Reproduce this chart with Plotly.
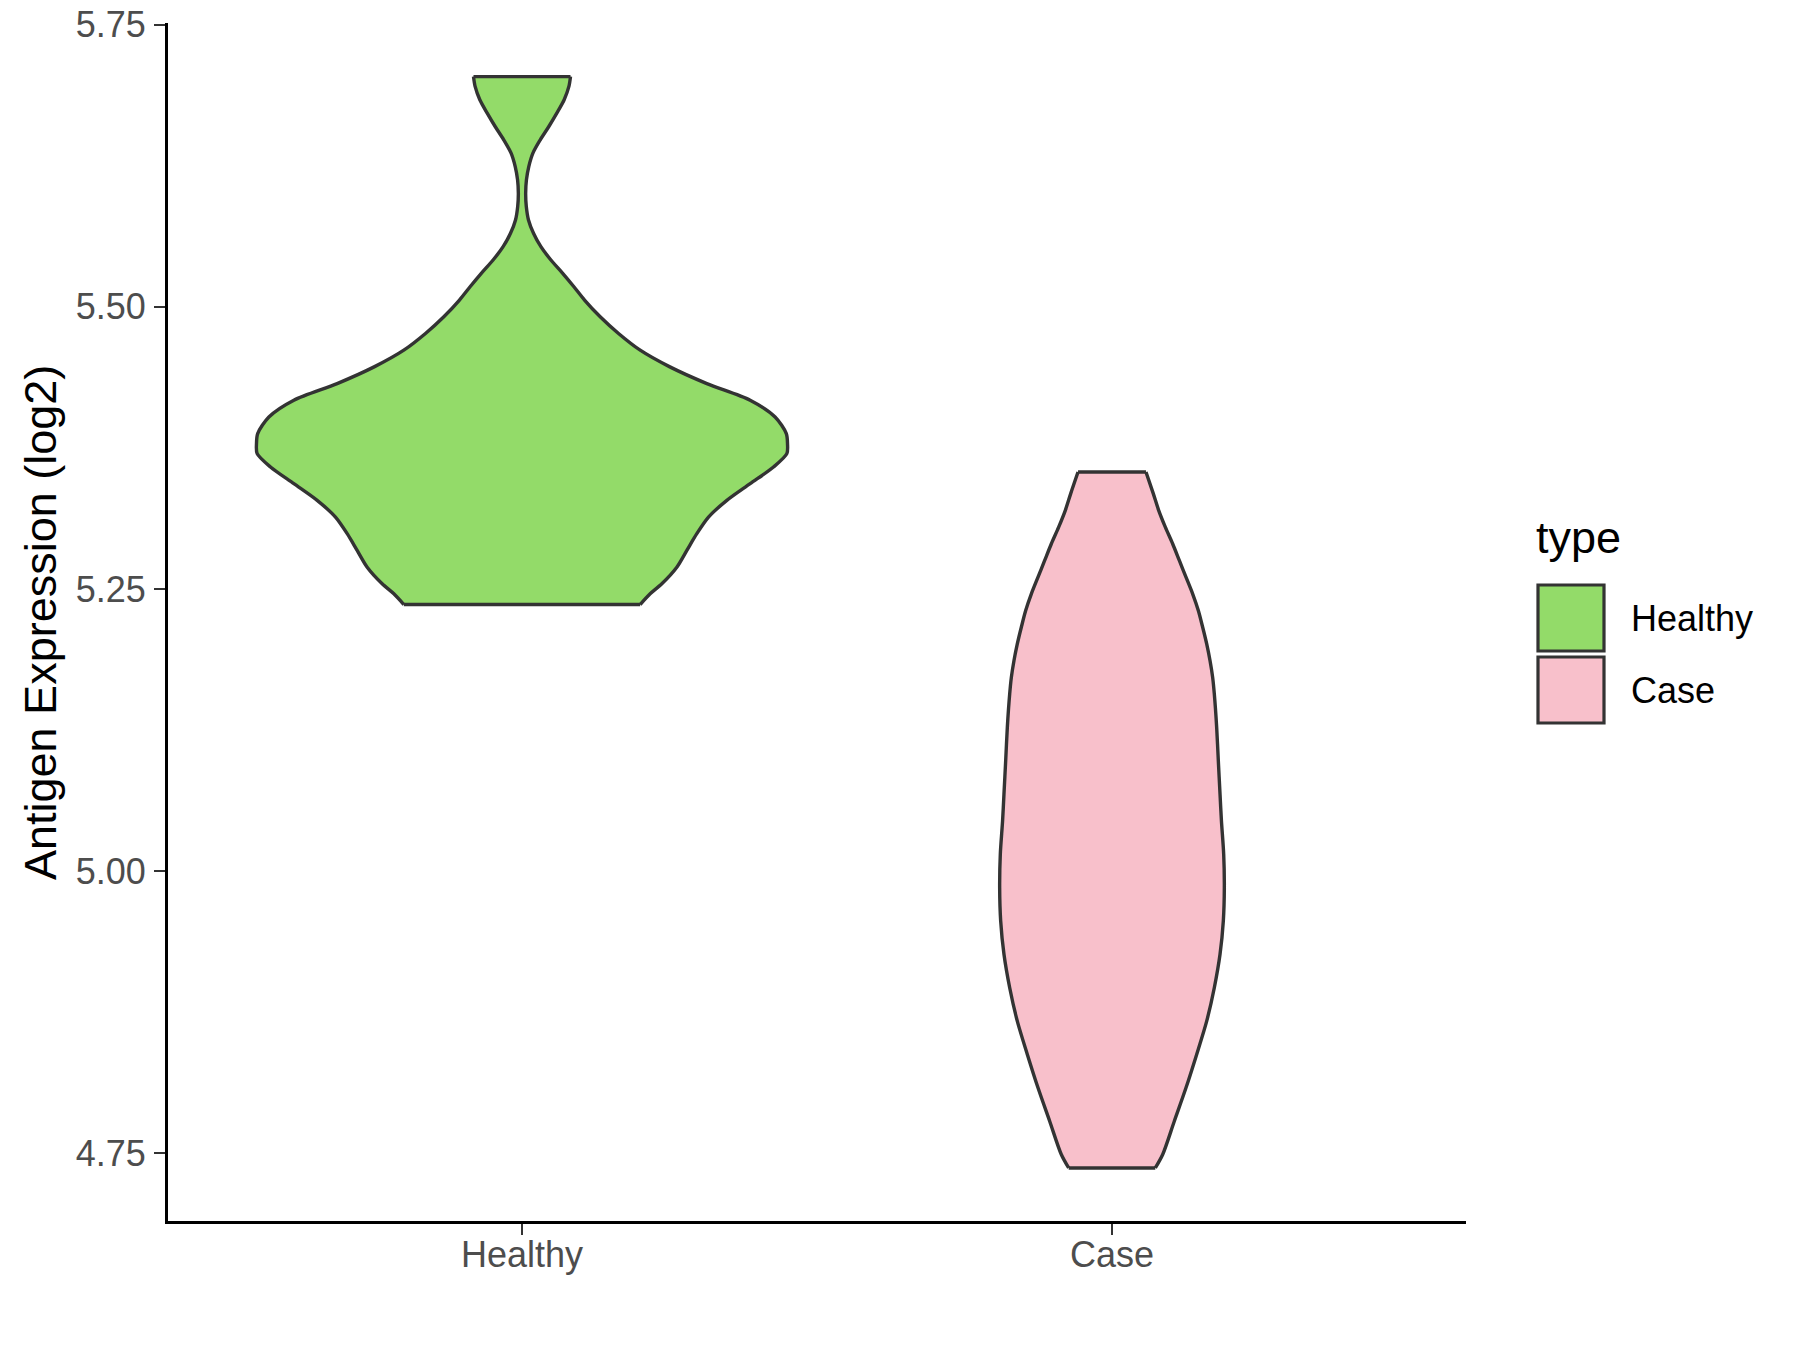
import plotly.graph_objects as go

categories = ["Healthy", "Case"]
colors = {"Healthy": "#93DB69", "Case": "#F8C0CB"}

# violin outlines: expression level -> half width (category units)
healthy_levels = [5.2362, 5.2457, 5.2546, 5.2693, 5.2842, 5.2990, 5.3137, 5.3285, 5.3433, 5.3581,
                  5.3699, 5.3788, 5.3877, 5.4024, 5.4173, 5.4320, 5.4468, 5.4616, 5.4764, 5.4912,
                  5.5060, 5.5178, 5.5297, 5.5415, 5.5533, 5.5652, 5.5770, 5.5888, 5.6007, 5.6125,
                  5.6243, 5.6362, 5.6480, 5.6598, 5.6716, 5.6835, 5.6953, 5.7040]
healthy_halfwidth = [0.2003, 0.2172, 0.2370, 0.2624, 0.2794, 0.2963, 0.3161, 0.3472, 0.3867, 0.4263,
                     0.4489, 0.4500, 0.4480, 0.4290, 0.3867, 0.3133, 0.2506, 0.2003, 0.1636, 0.1325,
                     0.1060, 0.0880, 0.0690, 0.0490, 0.0320, 0.0195, 0.0110, 0.0073, 0.0062, 0.0075,
                     0.0115, 0.0185, 0.0310, 0.0455, 0.0590, 0.0715, 0.0795, 0.0822]

case_levels = [4.7370, 4.7489, 4.7784, 4.8080, 4.8376, 4.8671, 4.8967, 4.9263, 4.9559, 4.9854,
               5.0150, 5.0443, 5.0683, 5.0978, 5.1274, 5.1570, 5.1717, 5.1866, 5.2013, 5.2161,
               5.2309, 5.2457, 5.2605, 5.2753, 5.2901, 5.3048, 5.3197, 5.3345, 5.3536]
case_halfwidth = [0.0734, 0.0859, 0.1056, 0.1254, 0.1435, 0.1605, 0.1734, 0.1831, 0.1887, 0.1904,
                  0.1893, 0.1855, 0.1831, 0.1802, 0.1774, 0.1734, 0.1706, 0.1661, 0.1605, 0.1537,
                  0.1463, 0.1367, 0.1254, 0.1141, 0.1028, 0.0904, 0.0791, 0.0700, 0.0576]

y_ticks = [4.75, 5.00, 5.25, 5.50, 5.75]

FONT = "Liberation Sans, Arial, sans-serif"
OUTLINE = "#333333"

# figure margins (the page adds an 8px body margin)
L, R, T, B = 160, 342, 15, 137
W, H = 1800 - L - R, 1350 - T - B


def px(x_page):
    return (x_page - 8 - L) / W


def py(y_page):
    return 1 - (y_page - 8 - T) / H


fig = go.Figure()
profiles = {"Healthy": (healthy_levels, healthy_halfwidth), "Case": (case_levels, case_halfwidth)}
for i, name in enumerate(categories, start=1):
    levels, half = profiles[name]
    side_line = dict(color=OUTLINE, width=3.4, shape="spline", smoothing=0.8)
    fig.add_trace(go.Scatter(
        x=[i - w for w in half], y=levels, mode="lines", line=side_line,
        showlegend=False, hoverinfo="skip",
    ))
    fig.add_trace(go.Scatter(
        x=[i + w for w in half], y=levels, mode="lines", line=side_line,
        fill="tonextx", fillcolor=colors[name], name=name,
        showlegend=False, hoverinfo="skip",
    ))
    # flat ends of the trimmed violin
    fig.add_trace(go.Scatter(
        x=[i - half[0], i + half[0], None, i - half[-1], i + half[-1]],
        y=[levels[0], levels[0], None, levels[-1], levels[-1]],
        mode="lines", line=dict(color=OUTLINE, width=3.4),
        showlegend=False, hoverinfo="skip",
    ))

fig.update_layout(
    width=1800, height=1350,
    margin=dict(l=L, r=R, t=T, b=B),
    plot_bgcolor="white", paper_bgcolor="white",
    font=dict(family=FONT, color="#4D4D4D"),
    showlegend=False,
)
axis_style = dict(
    showline=True, linecolor="black", linewidth=2.8, ticks="outside", ticklen=11,
    tickcolor=OUTLINE, tickwidth=2.4, tickfont=dict(size=36, color="#4D4D4D"),
    showgrid=False, zeroline=False, automargin=False, ticklabeloverflow="allow",
)
fig.update_xaxes(range=[0.4, 2.6], tickvals=[1, 2], ticktext=categories,
                 ticklabelstandoff=-11, **axis_style)
fig.update_yaxes(range=[4.690, 5.7515], tickvals=y_ticks,
                 ticktext=[f"{v:.2f}" for v in y_ticks], ticklabelstandoff=1, **axis_style)

fig.add_annotation(x=px(40), y=py(623), xref="paper", yref="paper",
                   text="Antigen Expression (log2)", textangle=-90, showarrow=False,
                   xanchor="center", yanchor="middle",
                   font=dict(size=45, color="black"))

# legend drawn by hand so the keys match the big squares
key_top = [585, 657]
for name, top in zip(categories, key_top):
    fig.add_shape(type="rect", xref="paper", yref="paper",
                  x0=px(1538), x1=px(1604), y0=py(top), y1=py(top + 66),
                  fillcolor=colors[name], line=dict(color=OUTLINE, width=3.2))
    fig.add_annotation(x=px(1629), y=py(top + 33), xref="paper", yref="paper",
                       text=name, showarrow=False, xanchor="left", yanchor="middle",
                       font=dict(size=36, color="black"))
fig.add_annotation(x=px(1534), y=py(537), xref="paper", yref="paper",
                   text="type", showarrow=False, xanchor="left", yanchor="middle",
                   font=dict(size=45, color="black"))

fig.write_html("out.html")
